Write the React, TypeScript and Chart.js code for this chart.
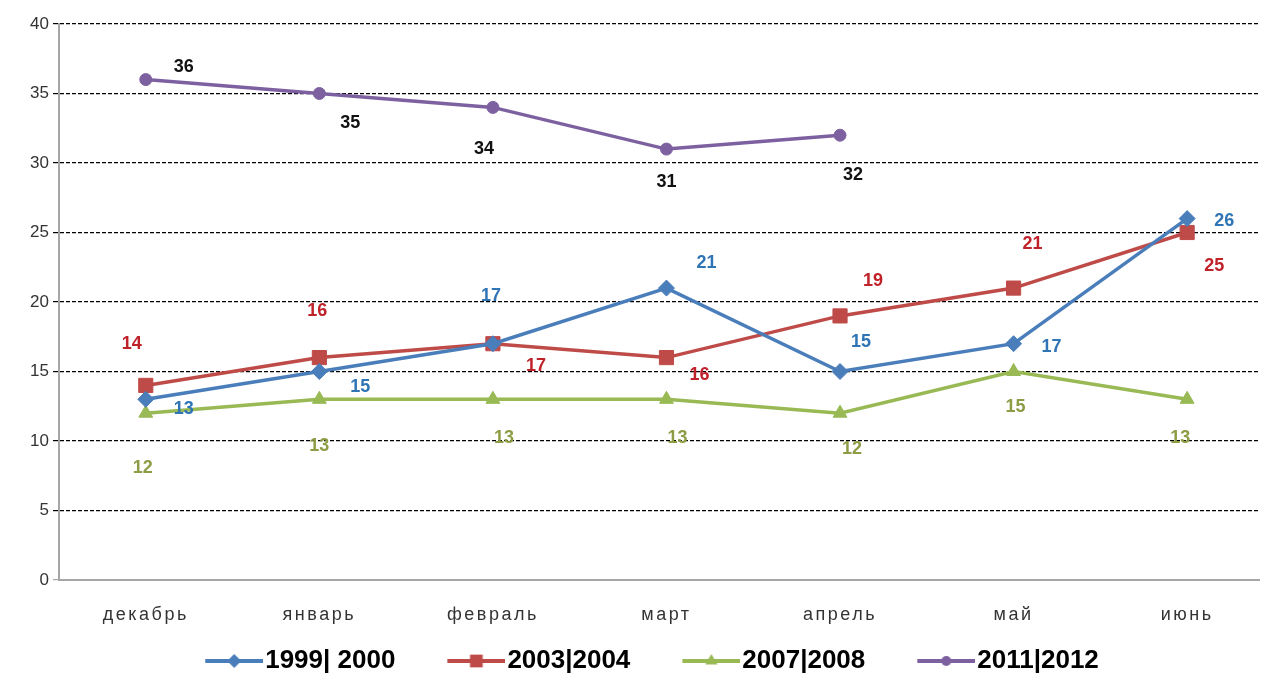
import React, { useEffect, useRef } from "react";
import { Chart, registerables, LinearScale } from "chart.js";

const categories = ["декабрь", "январь", "февраль", "март", "апрель", "май", "июнь"];
const seriesNames = ["1999| 2000", "2003|2004", "2007|2008", "2011|2012"];
const values1999 = [13, 15, 17, 21, 15, 17, 26];
const values2003 = [14, 16, 17, 16, 19, 21, 25];
const values2007 = [12, 13, 13, 13, 12, 15, 13];
const values2011 = [36, 35, 34, 31, 32];
const yTicks = [0, 5, 10, 15, 20, 25, 30, 35, 40];

// label offsets (px) relative to each point
const offsets1999 = [[38, 10], [41, 16], [-2, -48], [40, -25], [21, -29], [38, 3], [37, 2]];
const offsets2003 = [[-14, -41], [-2, -47], [43, 22], [33, 17], [33, -35], [19, -44], [27, 34]];
const offsets2007 = [[-3, 55], [0, 47], [11, 39], [11, 39], [12, 36], [2, 36], [-7, 39]];
const offsets2011 = [[38, -13], [31, 30], [-9, 42], [0, 33], [13, 40]];

const lineColors = ["#4a7ebb", "#be4b48", "#98b954", "#7d60a0"];
const markerStyles = ["rectRot", "rect", "triangle", "circle"];
const markerRadius = [8, 10, 8, 6];
const labelColors = ["#2f75b5", "#c0222a", "#8c9d45", "#111111"];

class SpacedLinear extends LinearScale {
  static id = "spacedLinear";
  static defaults = LinearScale.defaults;
  drawLabels(chartArea: any) {
    const ctx: any = this.ctx;
    const prev = ctx.letterSpacing;
    ctx.letterSpacing = "2.5px";
    super.drawLabels(chartArea);
    ctx.letterSpacing = prev;
  }
}

Chart.register(...registerables, SpacedLinear);
Chart.defaults.font.family = "'Liberation Sans', Arial, sans-serif";

function drawMarker(ctx: CanvasRenderingContext2D, style: string, x: number, y: number, r: number) {
  ctx.beginPath();
  if (style === "rectRot") {
    ctx.moveTo(x, y - r);
    ctx.lineTo(x + r, y);
    ctx.lineTo(x, y + r);
    ctx.lineTo(x - r, y);
    ctx.closePath();
  } else if (style === "rect") {
    const s = r * Math.SQRT1_2;
    ctx.rect(x - s, y - s, 2 * s, 2 * s);
  } else if (style === "triangle") {
    ctx.moveTo(x, y - r);
    ctx.lineTo(x + r * 0.87, y + r * 0.5);
    ctx.lineTo(x - r * 0.87, y + r * 0.5);
    ctx.closePath();
  } else {
    ctx.arc(x, y, r, 0, Math.PI * 2);
  }
  ctx.fill();
}

function legendImage(i: number): HTMLCanvasElement {
  const c = document.createElement("canvas");
  c.width = 111;
  c.height = 22;
  const ctx = c.getContext("2d")!;
  ctx.strokeStyle = lineColors[i];
  ctx.lineWidth = 4;
  ctx.beginPath();
  ctx.moveTo(53, 11);
  ctx.lineTo(111, 11);
  ctx.stroke();
  ctx.fillStyle = lineColors[i];
  drawMarker(ctx, markerStyles[i], 82, 11, markerRadius[i] - 1);
  return c;
}

const allValues = [values1999, values2003, values2007, values2011];
const allOffsets = [offsets1999, offsets2003, offsets2007, offsets2011];

const dataLabelPlugin = {
  id: "dataLabels",
  afterDatasetsDraw(chart: any) {
    const ctx = chart.ctx;
    ctx.save();
    ctx.font = "bold 18px 'Liberation Sans', Arial, sans-serif";
    ctx.textAlign = "center";
    ctx.textBaseline = "middle";
    chart.data.datasets.forEach((ds: any, di: number) => {
      const meta = chart.getDatasetMeta(di);
      ctx.fillStyle = labelColors[di];
      meta.data.forEach((pt: any, i: number) => {
        const off = allOffsets[di][i];
        ctx.fillText(String(allValues[di][i]), pt.x + off[0], pt.y + off[1]);
      });
    });
    ctx.restore();
  },
};

export default function App() {
  const canvasRef = useRef<HTMLCanvasElement | null>(null);

  useEffect(() => {
    if (!canvasRef.current) return;
    const datasets = allValues.map((vals, i) => ({
      label: seriesNames[i],
      data: vals.map((v, j) => ({ x: j, y: v })),
      borderColor: lineColors[i],
      backgroundColor: lineColors[i],
      borderWidth: 3.5,
      pointStyle: markerStyles[i],
      pointRadius: markerRadius[i],
      pointBackgroundColor: lineColors[i],
      pointBorderColor: lineColors[i],
      pointBorderWidth: 1,
      tension: 0,
    }));
    const chart = new Chart(canvasRef.current, {
      type: "line",
      data: { datasets },
      plugins: [dataLabelPlugin],
      options: {
        animation: false,
        responsive: true,
        maintainAspectRatio: false,
        layout: { padding: { top: 24, right: 8, left: 0, bottom: 0 } },
        plugins: {
          tooltip: { enabled: false },
          legend: {
            position: "bottom",
            labels: {
              usePointStyle: true,
              pointStyleWidth: 89,
              padding: 10,
              color: "#000",
              font: { size: 26, weight: "bold" },
              generateLabels: (ch: any) => {
                const items = Chart.defaults.plugins.legend.labels.generateLabels(ch);
                return items.map((it: any, i: number) => ({ ...it, pointStyle: legendImage(i) }));
              },
            },
          },
        },
        scales: {
          x: {
            type: "spacedLinear" as any,
            min: -0.5,
            max: 6.414,
            afterBuildTicks: (s: any) => {
              s.ticks = categories.map((_, i) => ({ value: i }));
            },
            afterFit: (s: any) => {
              s.height = 58;
            },
            grid: { display: false, drawTicks: false },
            border: { display: true, color: "#a6a6a6", width: 2 },
            ticks: {
              padding: 24,
              color: "#333",
              font: { size: 18 },
              callback: (v: any) => categories[v as number] ?? "",
            },
          },
          y: {
            min: 0,
            max: 40,
            afterBuildTicks: (s: any) => {
              s.ticks = yTicks.map((v) => ({ value: v }));
            },
            afterFit: (s: any) => {
              s.width = 59;
            },
            grid: {
              color: (c: any) => (c.tick && c.tick.value === 0 ? "rgba(0,0,0,0)" : "#000"),
              lineWidth: 1.2,
              tickLength: 6,
              tickColor: (c: any) => (c.tick && c.tick.value === 0 ? "#a6a6a6" : "#000"),
            },
            border: { display: true, color: "#a6a6a6", width: 2, dash: [4, 2] },
            ticks: { padding: 4, color: "#333", font: { size: 17 } },
          },
        },
      },
    });
    return () => chart.destroy();
  }, []);

  return (
    <div style={{ position: "fixed", left: 0, top: 0, width: 1270, height: 684, background: "#fff" }}>
      <canvas ref={canvasRef} />
    </div>
  );
}
